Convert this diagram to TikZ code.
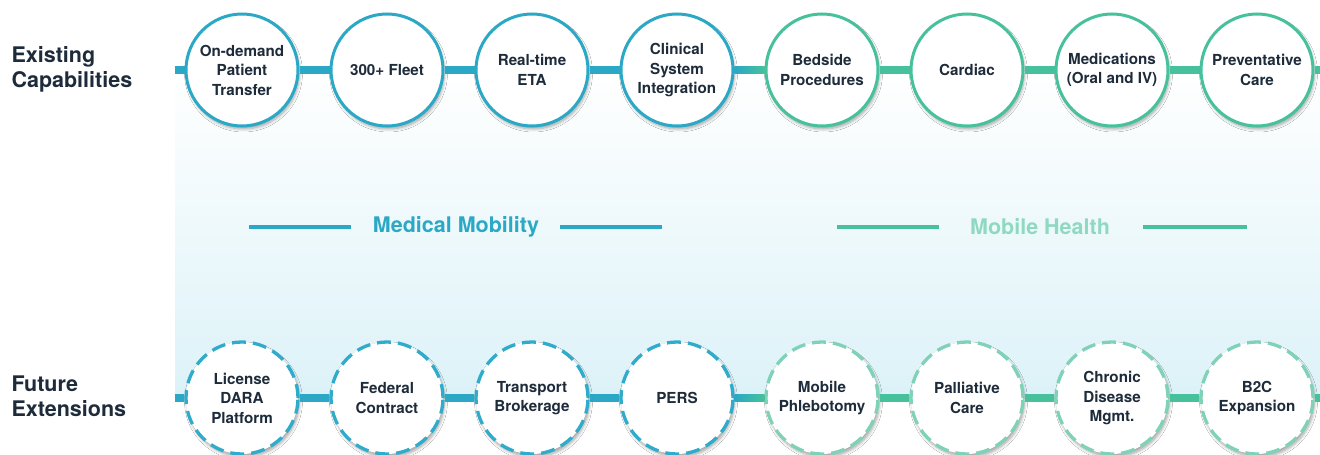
\documentclass[tikz,border=0pt]{standalone}
\usepackage{fontspec}
\setmainfont{TeX Gyre Heros}
\usetikzlibrary{shadows.blur}
\definecolor{mblue}{HTML}{2AA8C5}
\definecolor{mgreen}{HTML}{47C19B}
\definecolor{dblue}{HTML}{2FABCB}
\definecolor{dgreen}{HTML}{7FD2B8}
\definecolor{mhtext}{HTML}{8FD9C1}
\definecolor{txt}{HTML}{1D2B3A}
\definecolor{bgbot}{HTML}{DCF2F8}
\tikzset{
  capnode/.style={circle, minimum size=112pt, inner sep=0pt, fill=white, line width=3pt,
    align=center, text=txt, font=\fontsize{15.2}{19.5}\selectfont\bfseries,
    blur shadow={shadow xshift=1.5pt, shadow yshift=-3pt, shadow blur steps=6, shadow opacity=35, shadow blur radius=3pt}},
  solidblue/.style={capnode, draw=mblue},
  solidgreen/.style={capnode, draw=mgreen},
  dashblue/.style={capnode, draw=dblue, line width=3.3pt, dash pattern=on 14pt off 7pt},
  dashgreen/.style={capnode, draw=dgreen, line width=3.3pt, dash pattern=on 14pt off 7pt},
  link/.style={line width=7.5pt},
  rowlabel/.style={anchor=west, align=left, text=txt, font=\fontsize{21.5}{25}\selectfont\bfseries},
  seclabel/.style={font=\fontsize{21.5}{24}\selectfont\bfseries},
  secline/.style={line width=3.5pt}
}
\begin{document}
\begin{tikzpicture}[x=1pt,y=-1pt]
\useasboundingbox (0,0) rectangle (1320,455);
\fill[white] (0,0) rectangle (1320,455);
\shade[top color=white, bottom color=bgbot] (175,70) rectangle (1320,398);

% row labels
\node[rowlabel] (lexist) at (8,69) {Existing\\Capabilities};
\node[rowlabel] (lfuture) at (8,396) {Future\\Extensions};

% section labels
\node[seclabel, text=mblue] (mm) at (456,227) {Medical Mobility};
\coordinate (mmL1) at (249,227); \coordinate (mmL2) at (351,227);
\coordinate (mmR1) at (560,227); \coordinate (mmR2) at (662,227);
\draw[secline, mblue] (mmL1) -- (mmL2);
\draw[secline, mblue] (mmR1) -- (mmR2);
\node[seclabel, text=mhtext] (mh) at (1040,227) {Mobile Health};
\coordinate (mhL1) at (837,227); \coordinate (mhL2) at (939,227);
\coordinate (mhR1) at (1143,227); \coordinate (mhR2) at (1247,227);
\draw[secline, mgreen] (mhL1) -- (mhL2);
\draw[secline, mgreen] (mhR1) -- (mhR2);

% top row
\coordinate (ts) at (175,70);
\coordinate (te) at (1320,70);
\node[solidblue] (t1) at (242,70) {On-demand\\Patient\\Transfer};
\node[solidblue] (t2) at (387,70) {300+ Fleet};
\node[solidblue] (t3) at (532,70) {Real-time\\ETA};
\node[solidblue] (t4) at (677,70) {Clinical\\System\\Integration};
\node[solidgreen] (t5) at (822,70) {Bedside\\Procedures};
\node[solidgreen] (t6) at (967,70) {Cardiac};
\node[solidgreen] (t7) at (1112,70) {Medications\\(Oral and IV)};
\node[solidgreen] (t8) at (1257,70) {Preventative\\Care};

% bottom row
\coordinate (bs) at (175,398);
\coordinate (be) at (1320,398);
\node[dashblue] (b1) at (242,398) {License\\DARA\\Platform};
\node[dashblue] (b2) at (387,398) {Federal\\Contract};
\node[dashblue] (b3) at (532,398) {Transport\\Brokerage};
\node[dashblue] (b4) at (677,398) {PERS};
\node[dashgreen] (b5) at (822,398) {Mobile\\Phlebotomy};
\node[dashgreen] (b6) at (967,398) {Palliative\\Care};
\node[dashgreen] (b7) at (1112,398) {Chronic\\Disease\\Mgmt.};
\node[dashgreen] (b8) at (1257,398) {B2C\\Expansion};

% connectors
\foreach \r in {t,b}{
  \draw[link, mblue] (\r s) -- (\r 1.west);
  \draw[link, mblue] (\r 1.east) -- (\r 2.west);
  \draw[link, mblue] (\r 2.east) -- (\r 3.west);
  \draw[link, mblue] (\r 3.east) -- (\r 4.west);
  \shade[left color=mblue, right color=mgreen] ([yshift=-3.75pt]\r 4.east) rectangle ([yshift=3.75pt]\r 5.west);
  \draw[link, mgreen] (\r 5.east) -- (\r 6.west);
  \draw[link, mgreen] (\r 6.east) -- (\r 7.west);
  \draw[link, mgreen] (\r 7.east) -- (\r 8.west);
  \draw[link, mgreen] (\r 8.east) -- (\r e);
}
\end{tikzpicture}
\end{document}
